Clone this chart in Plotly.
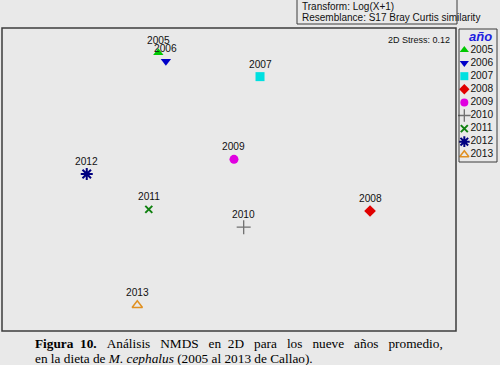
import plotly.graph_objects as go

# ---- data (NMDS coordinates) ----
years = ["2005", "2006", "2007", "2008", "2009", "2010", "2011", "2012", "2013"]
nmds_x = [-0.467, -0.417, 0.205, 0.932, 0.033, 0.097, -0.530, -0.940, -0.606]
nmds_y = [0.836, 0.780, 0.679, -0.208, 0.133, -0.315, -0.197, 0.036, -0.830]
stress = 0.12

symbols = ["triangle-up", "triangle-down", "square", "diamond", "circle",
           "cross-thin", "x-thin", "asterisk", "triangle-up-open"]
colors = ["#00c800", "#0000c8", "#00e0e0", "#e00000", "#e000e0",
          "#707070", "#108010", "#000080", "#e09020"]
sizes = [9, 9, 9, 9, 9, 10, 7, 10, 9]
leg_sizes = [8, 8, 8, 8, 8, 9, 7, 9, 8]
line_w = [0, 0, 0, 0, 0, 1.3, 2, 2, 1.5]

W, H = 500, 365
BG = "#e9e9e9"
FONT = "Arial, Liberation Sans, sans-serif"
SERIF = "Liberation Serif, Times New Roman, serif"

def px(x):
    return x / W

def py(y):
    return 1 - y / H

# plot-area pixel box
PL, PR, PT, PB = 2, 456, 28, 331
# legend pixel box
LL, LR, LT, LB = 459, 497, 29, 162

fig = go.Figure()

# main points
for i, yr in enumerate(years):
    fig.add_trace(go.Scatter(
        x=[nmds_x[i]], y=[nmds_y[i]], mode="markers",
        marker=dict(symbol=symbols[i], size=sizes[i], color=colors[i],
                    line=dict(color=colors[i], width=line_w[i])),
        xaxis="x", yaxis="y", showlegend=False, cliponaxis=False))

# legend markers and labels
leg_idx = list(range(len(years)))
for i, yr in enumerate(years):
    fig.add_trace(go.Scatter(
        x=[0.14], y=[leg_idx[i]], mode="markers",
        marker=dict(symbol=symbols[i], size=leg_sizes[i], color=colors[i],
                    line=dict(color=colors[i], width=line_w[i])),
        xaxis="x2", yaxis="y2", showlegend=False, cliponaxis=False))
fig.add_trace(go.Scatter(
    x=[0.3] * len(years), y=leg_idx, mode="text", text=years,
    textposition="middle right",
    textfont=dict(family=FONT, size=10.2, color="#111111"),
    xaxis="x2", yaxis="y2", showlegend=False, cliponaxis=False))

ax_common = dict(showgrid=False, zeroline=False, showticklabels=False,
                 ticks="", showline=False, fixedrange=True)
fig.update_layout(
    width=W, height=H, margin=dict(l=0, r=0, t=0, b=0),
    paper_bgcolor=BG, plot_bgcolor=BG,
    xaxis=dict(domain=[px(PL), px(PR)], range=[-1.5, 1.5], **ax_common),
    yaxis=dict(domain=[py(PB), py(PT)], range=[-1.0, 1.0], **ax_common),
    xaxis2=dict(domain=[px(LL), px(LR)], range=[0, 1], anchor="y2", **ax_common),
    yaxis2=dict(domain=[py(LB), py(LT)], range=[8.55, -1.6], anchor="x2", **ax_common),
    showlegend=False,
)

shapes = [
    dict(type="rect", xref="paper", yref="paper", x0=px(PL), x1=px(PR), y0=py(PB), y1=py(PT),
         line=dict(color="#3c3c3c", width=1.5), fillcolor="rgba(0,0,0,0)"),
    dict(type="rect", xref="paper", yref="paper", x0=px(LL), x1=px(LR), y0=py(LB), y1=py(LT),
         line=dict(color="#3c3c3c", width=1), fillcolor="rgba(0,0,0,0)"),
    dict(type="rect", xref="paper", yref="paper", x0=px(297), x1=px(457), y0=py(24), y1=py(-1),
         line=dict(color="#3c3c3c", width=1), fillcolor="rgba(0,0,0,0)"),
]
fig.update_layout(shapes=shapes)

G = " \u00a0\u00a0"  # justified-looking gap
g = " \u00a0"
line1 = ("<b>Figura" + g + "10.</b>" + G + "Análisis" + G + "NMDS" + G + "en" + g + "2D" + G
         + "para" + G + "los" + G + "nueve" + G + "años" + G + "promedio,")

ann = [
    dict(text="Transform: Log(X+1)", x=px(300), y=py(6), xanchor="left", yanchor="middle",
         font=dict(family=FONT, size=10, color="#111111")),
    dict(text="Resemblance: S17 Bray Curtis similarity", x=px(300), y=py(17.5), xanchor="left",
         yanchor="middle", font=dict(family=FONT, size=10, color="#111111")),
    dict(text="2D Stress: %.2f" % stress, x=px(452), y=py(40), xanchor="right", yanchor="middle",
         font=dict(family=FONT, size=9, color="#111111")),
    dict(text="<b><i>año</i></b>", x=px(480), y=py(36), xanchor="center", yanchor="middle",
         font=dict(family=FONT, size=13, color="#2020e0")),
    dict(text=line1, x=px(33), y=py(343), xanchor="left", yanchor="middle",
         font=dict(family=SERIF, size=13.3, color="#000000")),
    dict(text="en la dieta de <i>M. cephalus</i> (2005 al 2013 de Callao).",
         x=px(33), y=py(358), xanchor="left", yanchor="middle",
         font=dict(family=SERIF, size=13.3, color="#000000")),
]
for a in ann:
    a.update(xref="paper", yref="paper")
# point labels tied to the data axes
for i, yr in enumerate(years):
    ann.append(dict(text=yr, x=nmds_x[i], y=nmds_y[i], xref="x", yref="y",
                    yshift=12.5, xanchor="center", yanchor="middle",
                    font=dict(family=FONT, size=10.2, color="#111111")))
for a in ann:
    a.update(showarrow=False)
fig.update_layout(annotations=ann)

fig.write_html("out.html", config={"displayModeBar": False},
               post_script="document.body.style.margin='0';document.body.style.background='%s';" % BG)
